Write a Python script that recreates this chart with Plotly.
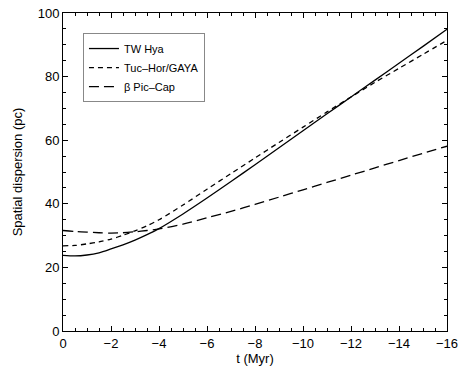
import plotly.graph_objects as go

t = [0, -0.5, -1, -1.5, -2, -2.5, -3, -3.5, -4, -5, -6, -7, -8, -9, -10, -11, -12, -13, -14, -15, -16]
tw_hya = [23.8, 23.6, 23.9, 24.6, 25.8, 27.1, 28.6, 30.3, 32.2, 36.8, 41.8, 47.0, 52.3, 57.6, 63.0, 68.3, 73.6, 78.9, 84.2, 89.5, 94.9]
tuc_hor = [26.8, 26.9, 27.4, 28.0, 28.9, 30.1, 31.5, 33.1, 35.0, 39.6, 44.6, 49.5, 54.4, 59.3, 64.1, 68.9, 73.6, 78.2, 82.6, 87.0, 91.4]
beta_pic = [31.6, 31.3, 31.1, 30.9, 30.8, 30.9, 31.2, 31.6, 32.1, 33.6, 35.6, 37.6, 39.8, 42.1, 44.4, 46.7, 49.0, 51.3, 53.6, 55.9, 58.1]

names = ["TW Hya", "Tuc\u2013Hor/GAYA", "\u03b2 Pic\u2013Cap"]
dashes = ["solid", "5px,4px", "10px,5px"]
series = [tw_hya, tuc_hor, beta_pic]

fig = go.Figure()
for nm, ys, d in zip(names, series, dashes):
    fig.add_trace(go.Scatter(x=t, y=ys, mode="lines", name=nm,
                             line=dict(color="black", width=1.3, dash=d, shape="spline", smoothing=0.8)))

axis_common = dict(showline=True, linecolor="black", linewidth=1, mirror="ticks",
                   ticks="inside", ticklen=5, tickcolor="black", showgrid=False, zeroline=False,
                   automargin=False, ticklabeloverflow="allow", tickfont=dict(size=13, color="black"))
fig.update_xaxes(range=[0, -16], tickvals=[0, -2, -4, -6, -8, -10, -12, -14, -16],
                 minor=dict(ticks="inside", ticklen=3, dtick=0.5, tickcolor="black"),
                 title=dict(text="t (Myr)", font=dict(size=13, color="black"), standoff=2),
                 **axis_common)
fig.update_yaxes(range=[0, 100], tickvals=[0, 20, 40, 60, 80, 100],
                 minor=dict(ticks="inside", ticklen=3, dtick=5, tickcolor="black"),
                 title=dict(text="Spatial dispersion (pc)", font=dict(size=13, color="black"), standoff=12),
                 **axis_common)
fig.update_layout(width=458, height=371, margin=dict(l=63, r=11, t=13, b=40),
                  plot_bgcolor="white", paper_bgcolor="white",
                  font=dict(family="Liberation Sans, Arial, sans-serif", color="black"),
                  legend=dict(x=0.052, y=0.937, xanchor="left", yanchor="top",
                              bordercolor="#888888", borderwidth=1, bgcolor="white",
                              font=dict(size=11), itemwidth=30, tracegroupgap=0))
fig.write_html("out.html", config={"displayModeBar": False},
               post_script="document.body.style.margin='0';document.body.style.overflow='hidden';")
